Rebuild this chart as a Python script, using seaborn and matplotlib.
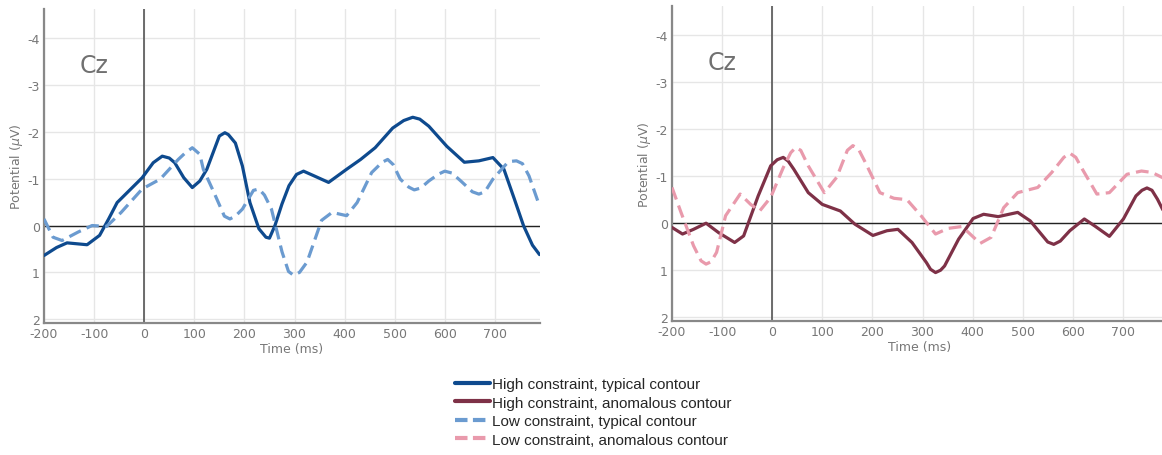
import numpy as np
import pandas as pd
import matplotlib
matplotlib.use("Agg")
import matplotlib.pyplot as plt
import seaborn as sns
from matplotlib.lines import Line2D

sns.set_theme(style="white")
plt.rcParams['font.family'] = ['DejaVu Sans']
plt.rcParams['axes.unicode_minus'] = False

# ---- data (time in ms, potential in microvolts) ----
t_high_typ = [-200, -175, -154, -114, -89, -71, -54, -4, 18, 36, 50, 61, 79, 96, 111, 125, 150,
              161, 168, 182, 196, 211, 229, 243, 250, 261, 275, 289, 304, 318, 339, 368, 404,
              432, 461, 496, 518, 536, 550, 568, 604, 639, 668, 696, 718, 739, 757, 775, 789]
v_high_typ = [0.64, 0.47, 0.37, 0.41, 0.21, -0.14, -0.49, -1.02, -1.34, -1.48, -1.44, -1.34,
              -1.02, -0.81, -0.95, -1.2, -1.91, -1.98, -1.94, -1.76, -1.27, -0.49, 0.07, 0.25,
              0.27, 0.0, -0.46, -0.85, -1.09, -1.16, -1.06, -0.92, -1.2, -1.41, -1.66, -2.08,
              -2.24, -2.31, -2.27, -2.12, -1.69, -1.35, -1.38, -1.45, -1.2, -0.56, 0.0, 0.42,
              0.62]

t_low_typ = [-200, -182, -164, -132, -104, -75, -46, -4, 32, 68, 82, 96, 111, 118, 139, 160,
             171, 182, 196, 218, 229, 240, 254, 275, 288, 298, 310, 325, 354, 375, 404, 425,
             454, 475, 486, 497, 511, 528, 539, 552, 568, 588, 600, 614, 632, 655, 668, 680,
             696, 725, 733, 743, 755, 768, 789]
v_low_typ = [-0.14, 0.25, 0.32, 0.14, 0.0, 0.02, -0.28, -0.78, -0.99, -1.41, -1.55, -1.66,
             -1.52, -1.2, -0.71, -0.2, -0.14, -0.2, -0.35, -0.75, -0.78, -0.65, -0.35, 0.56,
             0.98, 1.06, 1.0, 0.78, -0.11, -0.28, -0.21, -0.49, -1.13, -1.35, -1.41, -1.3,
             -0.99, -0.82, -0.76, -0.8, -0.95, -1.1, -1.16, -1.12, -0.95, -0.72, -0.67, -0.72,
             -0.99, -1.34, -1.37, -1.38, -1.32, -1.06, -0.42]

t_high_anom = [-200, -179, -157, -132, -107, -75, -57, -28, -3, 10, 22, 32, 43, 72, 100, 136,
               165, 201, 229, 251, 279, 308, 316, 326, 336, 344, 372, 401, 422, 451, 490, 515,
               550, 562, 575, 594, 623, 644, 673, 701, 726, 738, 748, 758, 769, 779, 790]
v_high_anom = [0.09, 0.23, 0.13, 0.0, 0.2, 0.41, 0.27, -0.58, -1.22, -1.35, -1.4, -1.32,
               -1.15, -0.65, -0.4, -0.26, 0.02, 0.26, 0.16, 0.13, 0.41, 0.84, 0.98, 1.05, 1.0,
               0.91, 0.34, -0.1, -0.19, -0.14, -0.23, -0.05, 0.4, 0.45, 0.38, 0.16, -0.09,
               0.06, 0.28, -0.09, -0.58, -0.7, -0.75, -0.7, -0.51, -0.3, -0.1]

t_low_anom = [-200, -182, -157, -142, -132, -122, -111, -93, -64, -43, -25, -3, 22, 37, 47,
              57, 72, 104, 129, 150, 161, 172, 186, 215, 243, 269, 297, 326, 351, 379, 415,
              437, 462, 490, 530, 558, 582, 594, 606, 619, 648, 673, 708, 737, 758, 779, 790]
v_low_anom = [-0.76, -0.23, 0.48, 0.8, 0.87, 0.82, 0.62, -0.16, -0.62, -0.4, -0.26, -0.55,
              -1.18, -1.5, -1.61, -1.55, -1.22, -0.65, -0.98, -1.55, -1.65, -1.58, -1.29,
              -0.65, -0.53, -0.5, -0.16, 0.23, 0.11, 0.07, 0.43, 0.3, -0.33, -0.65, -0.76,
              -1.08, -1.4, -1.49, -1.4, -1.15, -0.62, -0.65, -1.04, -1.11, -1.08, -0.97, -0.9]

labels = ["High constraint, typical contour", "High constraint, anomalous contour",
          "Low constraint, typical contour", "Low constraint, anomalous contour"]
colors = ["#0e4a8e", "#7e3147", "#6b9bd0", "#e99aac"]
x_ticks = [-200, -100, 0, 100, 200, 300, 400, 500, 600, 700]
y_ticks = [-4, -3, -2, -1, 0, 1, 2]

df_left = pd.concat([
    pd.DataFrame({"t": t_high_typ, "v": v_high_typ, "cond": labels[0]}),
    pd.DataFrame({"t": t_low_typ, "v": v_low_typ, "cond": labels[2]}),
])
df_right = pd.concat([
    pd.DataFrame({"t": t_high_anom, "v": v_high_anom, "cond": labels[1]}),
    pd.DataFrame({"t": t_low_anom, "v": v_low_anom, "cond": labels[3]}),
])

W, H = 1162, 456
fig = plt.figure(figsize=(W / 100, H / 100), dpi=100)
ax1 = fig.add_axes([44 / W, 1 - 324 / H, 496 / W, 314 / H])
ax2 = fig.add_axes([672 / W, 1 - 322 / H, 496 / W, 315 / H])

grey = "#777777"
LW = 2.3
dash = (4, 2)

for ax, df, cs, lbs in [(ax1, df_left, [colors[0], colors[2]], [labels[0], labels[2]]),
                        (ax2, df_right, [colors[1], colors[3]], [labels[1], labels[3]])]:
    ax.set_xlim(-200, 790)
    ax.set_ylim(2.08, -4.62)
    ax.set_xticks(x_ticks)
    ax.set_yticks(y_ticks)
    ax.grid(True, color="#e6e6e6", linewidth=1.0)
    ax.set_axisbelow(True)
    ax.axhline(0, color="#222222", linewidth=1.0, zorder=2)
    ax.axvline(0, color="#555555", linewidth=1.2, zorder=2)
    sns.lineplot(data=df, x="t", y="v", hue="cond", style="cond",
                 palette=dict(zip(lbs, cs)),
                 dashes={lbs[0]: "", lbs[1]: dash},
                 linewidth=LW, ax=ax, legend=False, zorder=3, estimator=None, sort=False)
    for line in ax.get_lines()[-2:]:
        line.set_solid_joinstyle("round")
        line.set_dash_joinstyle("round")
    for side in ["top", "right"]:
        ax.spines[side].set_visible(False)
    for side in ["left", "bottom"]:
        ax.spines[side].set_color("#888888")
        ax.spines[side].set_linewidth(1.6)
    ax.tick_params(direction="in", length=4, width=1.2, color="#888888",
                   labelcolor=grey, labelsize=9, pad=3)
    ax.set_xlabel("Time (ms)", color=grey, fontsize=9, labelpad=1)
    ax.set_ylabel("Potential ($\\mu$V)", color=grey, fontsize=9, labelpad=2)
    ax.text(-100, -3.42, "Cz", fontsize=17, color="#707070", ha="center", va="center")

handles = [
    Line2D([], [], color=colors[0], lw=3),
    Line2D([], [], color=colors[1], lw=3),
    Line2D([], [], color=colors[2], lw=3, dashes=(3.0, 1.3)),
    Line2D([], [], color=colors[3], lw=3, dashes=(3.0, 1.3)),
]
leg = fig.legend(handles, labels, loc="upper left", bbox_to_anchor=(455 / W, 1 - 378 / H),
                 frameon=False, handlelength=2.3, handletextpad=0.15, labelspacing=0.3,
                 borderpad=0, borderaxespad=0,
                 prop={"family": "Liberation Sans", "size": 11})

fig.savefig("out.png", dpi=100)
